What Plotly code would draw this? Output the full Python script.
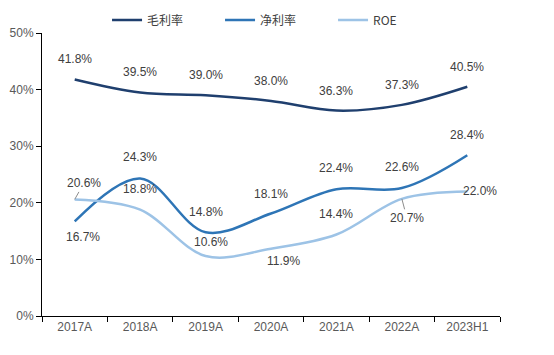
import plotly.graph_objects as go

categories = ["2017A", "2018A", "2019A", "2020A", "2021A", "2022A", "2023H1"]
gross_margin = [41.8, 39.5, 39.0, 38.0, 36.3, 37.3, 40.5]
net_margin = [16.7, 24.3, 14.8, 18.1, 22.4, 22.6, 28.4]
roe = [20.6, 18.8, 10.6, 11.9, 14.4, 20.7, 22.0]
y_ticks = [0, 10, 20, 30, 40, 50]

names = ["毛利率", "净利率", "ROE"]
colors = ["#1F3F6E", "#2E75B6", "#9DC3E6"]
series = [gross_margin, net_margin, roe]

# label offsets (xshift, yshift) in pixels; ("arrow", ax, ay) => leader line
offsets = [
    [(0, 20)] * 7,
    [(8, -16), (0, 21), (0, 20), (0, 20), (0, 21), (0, 21), (0, 20)],
    [("arrow", 9, -16), (0, 21), (5, 14), (12, -12), (0, 21), ("arrow", 5, 19), (13, 0)],
]

label_font = dict(family="Liberation Sans, Arial, sans-serif", size=12, color="#404040")

fig = go.Figure()
for name, col, vals in zip(names, colors, series):
    fig.add_trace(go.Scatter(
        x=categories, y=vals, name=name, mode="lines",
        line=dict(color=col, width=2.5, shape="spline", smoothing=1.0),
        hoverinfo="skip",
    ))

annotations = []
for vals, offs in zip(series, offsets):
    for c, v, o in zip(categories, vals, offs):
        txt = f"{v:.1f}%"
        if o[0] == "arrow":
            annotations.append(dict(
                x=c, y=v, xref="x", yref="y", text=txt, showarrow=True,
                ax=o[1], ay=o[2], arrowhead=0, arrowwidth=1, arrowcolor="#8C8C8C",
                font=label_font, borderpad=1,
            ))
        else:
            annotations.append(dict(
                x=c, y=v, xref="x", yref="y", text=txt, showarrow=False,
                xshift=o[0], yshift=o[1], font=label_font,
                xanchor="center", yanchor="middle",
            ))

fig.update_layout(
    width=546, height=347,
    margin=dict(l=34, r=54, t=25, b=39, autoexpand=False),
    paper_bgcolor="white", plot_bgcolor="white",
    annotations=annotations,
    showlegend=True,
    legend=dict(
        orientation="h", x=0.142, y=1.046, xanchor="left", yanchor="middle",
        font=dict(family="Noto Sans CJK SC, sans-serif", size=12, color="#404040"),
        entrywidth=68, entrywidthmode="pixels",
        bgcolor="rgba(0,0,0,0)",
    ),
    xaxis=dict(
        type="category", showgrid=False, showline=True, linecolor="#000000", linewidth=1,
        ticks="outside", tickson="boundaries", ticklen=5, tickcolor="#000000",
        tickfont=dict(family="Liberation Sans, Arial, sans-serif", size=12, color="#595959"),
        range=[-0.5, 6.5], zeroline=False, automargin=False,
    ),
    yaxis=dict(
        range=[0, 50], tickvals=y_ticks, ticktext=[f"{t}%" for t in y_ticks],
        showgrid=False, showline=True, linecolor="#000000", linewidth=1,
        ticks="outside", ticklen=5, tickcolor="#000000", zeroline=False, automargin=False,
        tickfont=dict(family="Liberation Sans, Arial, sans-serif", size=12, color="#595959"),
    ),
)

fig.write_html("out.html")
